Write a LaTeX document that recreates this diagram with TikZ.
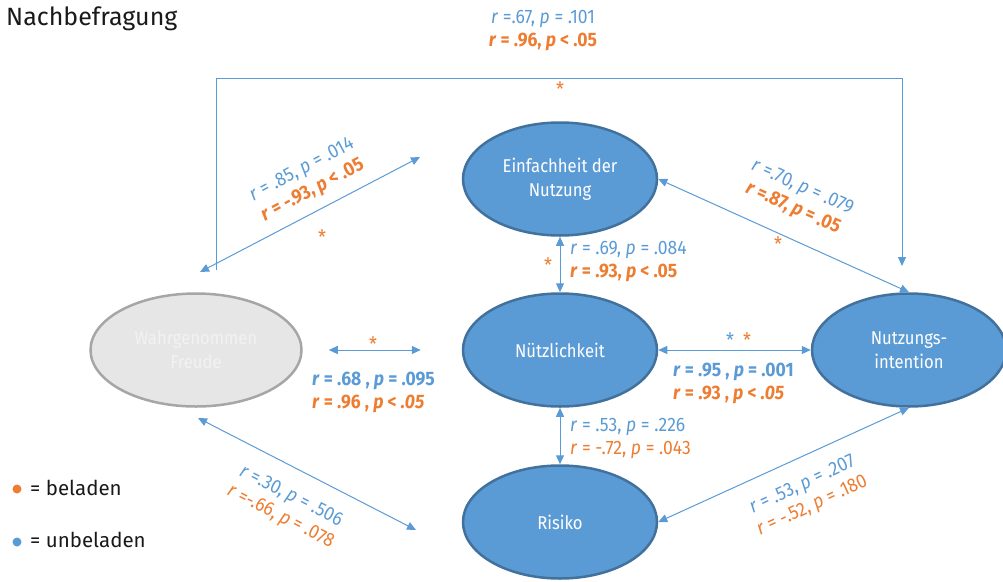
\documentclass[tikz,border=0pt]{standalone}
\usepackage{fontspec}
\setmainfont[FakeStretch=0.9]{Fira Sans}
\newfontfamily\plainfont{Fira Sans}
\usetikzlibrary{arrows.meta,shapes.geometric}
\definecolor{cblue}{HTML}{5B9BD5}
\definecolor{cdark}{HTML}{41719C}
\definecolor{corange}{HTML}{ED7D31}
\definecolor{gfill}{HTML}{E6E6E6}
\definecolor{gline}{HTML}{A6A6A6}
\newcommand\myr{\textit{r}}
\newcommand\myp{\textit{p}}
\newcommand\bl[1]{{\color{cblue}#1}}
\newcommand\blb[1]{{\color{cblue}\bfseries #1}}
\newcommand\ol[1]{{\color{corange}#1}}
\newcommand\olb[1]{{\color{corange}\bfseries #1}}
\begin{document}
\begin{tikzpicture}[x=1pt,y=-1pt,
  ell/.style={ellipse, draw=cdark, line width=2.5pt, fill=cblue, text=white,
    minimum width=194pt, minimum height=113pt, align=center, inner sep=0pt,
    font=\fontsize{18.5}{24}\selectfont},
  greyell/.style={ell, draw=gline, fill=gfill, text=white!95!black, minimum width=211pt},
  tip/.tip={Triangle[length=9pt,width=8pt]},
  conn/.style={draw=cblue, line width=1pt, tip-tip},
  lab/.style={inner sep=0pt, font=\fontsize{19.5}{23}\selectfont},
  labl/.style={lab, align=left, anchor=west},
  labc/.style={lab, align=center},
  star/.style={inner sep=0pt, font=\fontsize{20}{20}\selectfont},
  legend/.style={anchor=west, inner sep=0pt, text=black!90, font=\plainfont\fontsize{20.5}{24}\selectfont}
]
\useasboundingbox (0,0) rectangle (1003,581);

\node[anchor=west, inner sep=0pt, text=black!90, font=\plainfont\fontsize{25}{28}\selectfont] (title) at (6,19) {Nachbefragung};

% ellipses
\node[ell] (ein) at (560,179) {Einfachheit der\\Nutzung};
\node[ell] (nu) at (560,350) {Nützlichkeit};
\node[ell] (ni) at (909,350) {Nutzungs-\\intention};
\node[ell] (ri) at (560,522) {Risiko};
\node[greyell] (fr) at (196,350) {Wahrgenommen\\Freude};

% helper coordinates
\coordinate (fe1) at (200,272);
\coordinate (fe2) at (420,157);
\coordinate (fr1) at (198,418);
\coordinate (fr2) at (416,530);
\coordinate (top1) at (216,270);
\coordinate (top2) at (902,266);

% connectors
\draw[conn] (ein.south) -- (nu.north);
\draw[conn] (nu.south) -- (ri.north);
\draw[conn] (nu.east) -- (ni.west);
\draw[conn] (ein.east) -- (ni.north);
\draw[conn] (ri.east) -- (ni.south);
\draw[conn, shorten <=26pt, shorten >=41pt] (fr.east) -- (nu.west);
\draw[conn] (fe1) -- (fe2);
\draw[conn] (fr1) -- (fr2);
\draw[draw=cblue, line width=1pt, -tip] (top1) -- ++(0,-192) -| (top2);

% top labels
\node[labc] (t1) at (543,31) {\bl{\myr{} =.67, \myp{} = .101}\\\olb{\myr{} = .96, \myp{} < .05}};
\node[star, text=corange] (s1) at (560,89) {*};

% Freude - Einfachheit
\node[labc, rotate=28] (l1) at (307.5,180.5) {\bl{\myr{} = .85, \myp{} = .014}\\\olb{\myr{} = -.93, \myp{} < .05}};
\node[star, text=corange] (s2) at (322,237) {*};

% Einfachheit - Nutzungsintention
\node[labc, rotate=-24] (l3) at (797.5,198.5) {\bl{\myr{} =.70, \myp{} = .079}\\\olb{\myr{} =.87, \myp{} = .05}};
\node[star, text=corange] (s3) at (778,244) {*};

% Einfachheit - Nuetzlichkeit
\node[labl] (l5) at (570,261.5) {\bl{\myr{} = .69, \myp{} = .084}\\\olb{\myr{} = .93, \myp{} < .05}};
\node[star, text=corange] (s4) at (548,265) {*};

% Nuetzlichkeit - Nutzungsintention
\node[star, text=cblue] (s5) at (730,340) {*};
\node[star, text=corange] (s6) at (747,340) {*};
\node[labl] (l7) at (673,383.5) {\blb{\myr{} = .95 , \myp{} = .001}\\\olb{\myr{} = .93 , \myp{} < \textit{.05}}};

% Freude - Nuetzlichkeit
\node[star, text=corange] (s7) at (373,344) {*};
\node[labl] (l9) at (312,392.5) {\blb{\myr{} = .68 , \myp{} = .095}\\\olb{\myr{} = .96 , \myp{} < \textit{.05}}};

% Nuetzlichkeit - Risiko
\node[labl] (l11) at (570,438) {\bl{\myr{} = .53, \myp{} = .226}\\\ol{\myr{} = -.72, \myp{} = .043}};

% Freude - Risiko
\node[labc, rotate=-27] (l13) at (285.5,507) {\bl{\myr{} =.30, \myp{} = .506}\\\ol{\myr{} =-.66, \myp{} = .078}};

% Risiko - Nutzungsintention
\node[labc, rotate=25] (l15) at (807.5,496) {\bl{\myr{} = .53, \myp{} = .207}\\\ol{\myr{} = -.52, \myp{} = .180}};

% legend
\fill[corange] (17,489) circle (4.5pt);
\node[legend] (lg1) at (30,488) {= beladen};
\fill[cblue] (17,542) circle (4.5pt);
\node[legend] (lg2) at (30,540) {= unbeladen};
\end{tikzpicture}
\end{document}
